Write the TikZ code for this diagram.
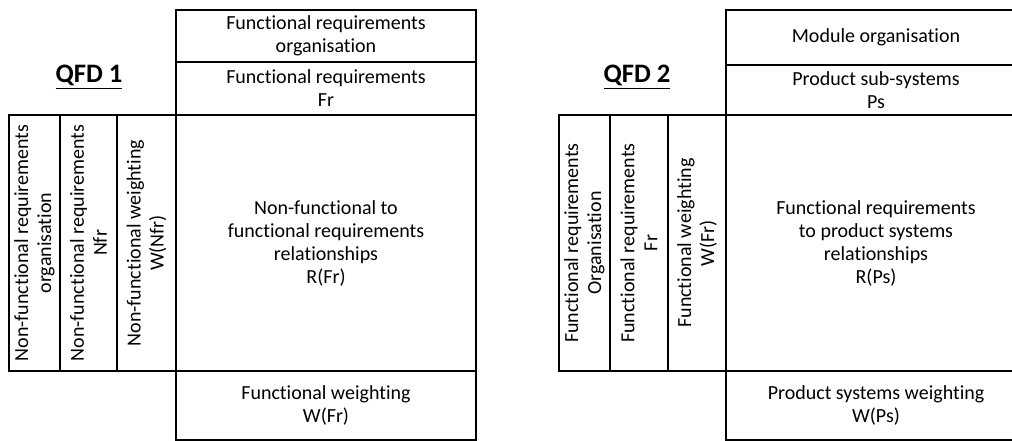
\documentclass[tikz,border=0pt]{standalone}
\usepackage{fontspec}
\setmainfont{Carlito}[Ligatures=NoCommon]
\tikzset{
  cell/.style={draw, line width=1.1pt, inner sep=0pt, align=center,
    minimum width=225pt, font=\fontsize{15}{17.25}\selectfont},
  sidecell/.style={cell, rotate=90, minimum width=192pt},
  qfdtitle/.style={font=\fontsize{20}{22}\selectfont\bfseries}
}
\begin{document}
\begin{tikzpicture}[x=0.75pt,y=-0.75pt]
        \useasboundingbox (0,0) rectangle (1012,441);

        % QFD 1
        \node[qfdtitle] (t1) at (89,77) {\underline{QFD 1}};
        \node[cell, minimum height=39pt] (forg) at (326,36) {Functional requirements\\organisation};
        \node[cell, minimum height=39.75pt] (ffr) at (326,88.5) {Functional requirements\\Fr};
        \node[cell, minimum height=192pt] (frel) at (326,243) {Non-functional to\\functional requirements\\relationships\\R(Fr)};
        \node[cell, minimum height=51.75pt] (fw) at (326,405.5) {Functional weighting\\W(Fr)};
        \node[sidecell, minimum height=38.25pt] (nforg) at (34.5,243) {Non-functional requirements\\organisation};
        \node[sidecell, minimum height=42.75pt] (nfr) at (88.5,243) {Non-functional requirements\\Nfr};
        \node[sidecell, minimum height=44.25pt] (nfw) at (146.5,243) {Non-functional weighting\\W(Nfr)};

        % QFD 2
        \node[qfdtitle] (t2) at (637,77) {\underline{QFD 2}};
        \node[cell, minimum height=41.25pt] (morg) at (876,37.5) {Module organisation};
        \node[cell, minimum height=37.5pt] (ps) at (876,90) {Product sub-systems\\Ps};
        \node[cell, minimum height=192pt] (prel) at (876,243) {Functional requirements\\to product systems\\relationships\\R(Ps)};
        \node[cell, minimum height=51.75pt] (pw) at (876,405.5) {Product systems weighting\\W(Ps)};
        \node[sidecell, minimum height=38.25pt] (frorg) at (584.5,243) {Functional requirements\\Organisation};
        \node[sidecell, minimum height=43.5pt] (fr) at (639,243) {Functional requirements\\Fr};
        \node[sidecell, minimum height=43.5pt] (frw) at (697,243) {Functional weighting\\W(Fr)};
    \end{tikzpicture}
\end{document}
